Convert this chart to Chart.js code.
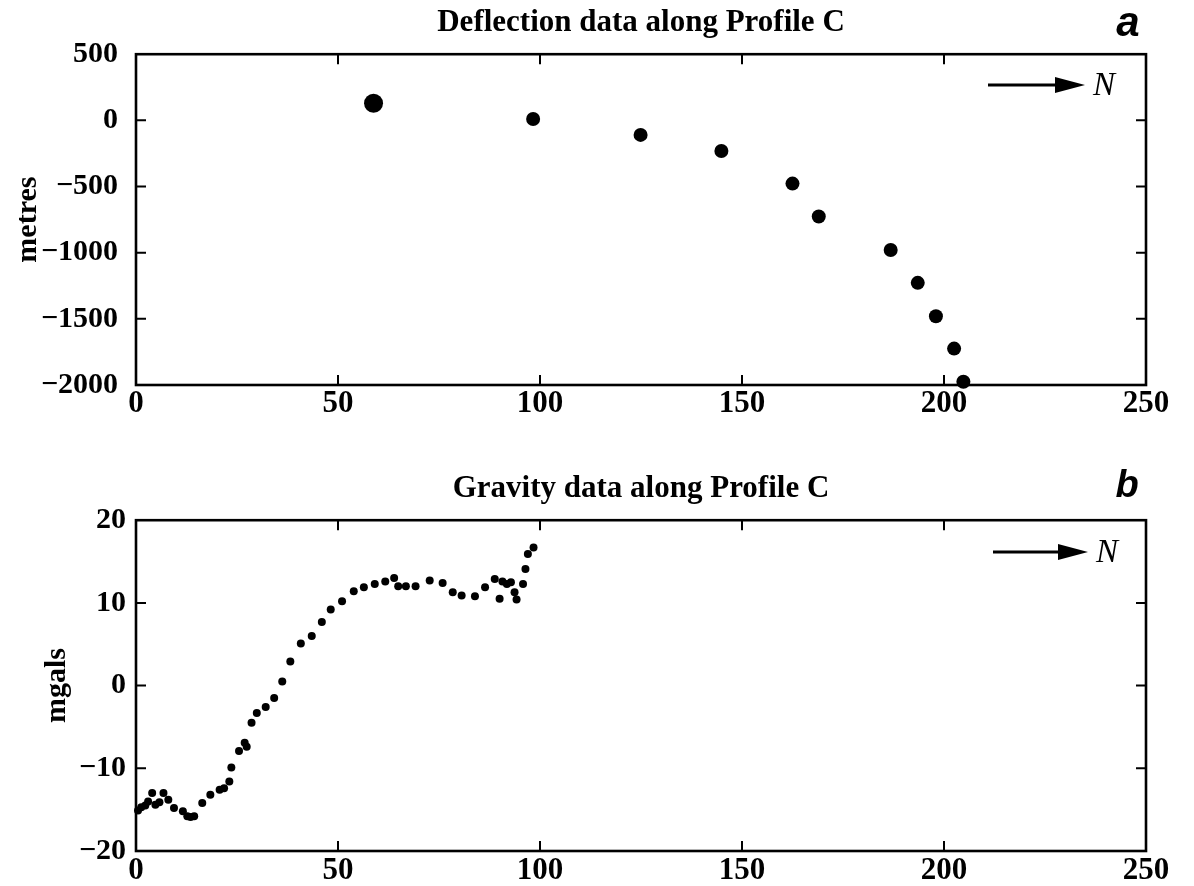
<!DOCTYPE html>
<html><head><meta charset="utf-8">
<script src="https://cdn.jsdelivr.net/npm/chart.js@4.4.0/dist/chart.umd.min.js"></script>
<style>
html,body{margin:0;padding:0;background:#fff;}
#wrap{position:relative;width:1194px;height:886px;overflow:hidden;}
canvas{position:absolute;left:0;}
</style></head><body>
<div id="wrap">
<canvas id="c1" width="1194" height="443" style="top:0"></canvas>
<canvas id="c2" width="1194" height="443" style="top:443px"></canvas>
</div>
<script>
// ---- data ----
const deflectionDistance = [58.8, 98.3, 124.9, 144.9, 162.5, 169.0, 186.8, 193.5, 198.0, 202.5, 204.8];
const deflectionMetres   = [130, 10, -110, -232, -478, -727, -980, -1228, -1480, -1725, -1975];

const gravityDistance = [0.5, 1.3, 2.3, 3.0, 4.0, 4.8, 5.8, 6.8, 8.0, 9.4, 11.6, 12.7, 13.5, 14.4, 16.4, 18.4,
  20.7, 21.8, 23.1, 23.6, 25.5, 26.9, 27.4, 28.6, 29.9, 32.1, 34.2, 36.2, 38.2, 40.8, 43.5, 46.0, 48.2,
  51.0, 53.9, 56.4, 59.1, 61.7, 63.9, 64.9, 66.8, 69.2, 72.7, 75.9, 78.4, 80.6, 83.9, 86.4, 88.8, 90.0,
  90.7, 91.8, 92.8, 93.7, 94.2, 95.8, 96.4, 97.0, 98.4];
const gravityMgals = [-15.1, -14.7, -14.5, -14.0, -13.0, -14.4, -14.1, -13.0, -13.8, -14.8, -15.2, -15.8, -15.9, -15.8, -14.2, -13.2,
  -12.6, -12.4, -11.6, -9.9, -7.9, -6.9, -7.4, -4.5, -3.3, -2.6, -1.5, 0.5, 2.9, 5.1, 6.0, 7.7, 9.2,
  10.2, 11.4, 11.9, 12.3, 12.6, 13.0, 12.0, 12.0, 12.0, 12.7, 12.4, 11.3, 10.9, 10.8, 11.9, 12.9, 10.5,
  12.6, 12.3, 12.5, 11.3, 10.4, 12.3, 14.1, 15.9, 16.7];

const distanceTicks   = [0, 50, 100, 150, 200, 250];
const deflectionTicks = [-2000, -1500, -1000, -500, 0, 500];
const gravityTicks    = [-20, -10, 0, 10, 20];

const titleA = 'Deflection data along Profile C';
const titleB = 'Gravity data along Profile C';
const yTitleA = 'metres';
const yTitleB = 'mgals';

// ---- drawing ----
const SERIF = '"Liberation Serif", "Times New Roman", serif';
const fmt = v => (v < 0 ? '\u2212' + Math.abs(v) : String(v));

const framePlugin = {
  id: 'frame',
  beforeDatasetsDraw(chart) {
    const {ctx, chartArea: a, scales} = chart;
    ctx.save();
    ctx.strokeStyle = '#000';
    ctx.lineWidth = 2.6;
    ctx.strokeRect(a.left, a.top, a.right - a.left, a.bottom - a.top);
    ctx.lineWidth = 2;
    const L = 10;
    const xs = scales.x, ys = scales.y;
    ctx.beginPath();
    xs.ticks.forEach(t => {
      if (t.value === xs.min || t.value === xs.max) return;
      const px = xs.getPixelForValue(t.value);
      ctx.moveTo(px, a.bottom); ctx.lineTo(px, a.bottom - L);
      ctx.moveTo(px, a.top); ctx.lineTo(px, a.top + L);
    });
    ys.ticks.forEach(t => {
      if (t.value === ys.min || t.value === ys.max) return;
      const py = ys.getPixelForValue(t.value);
      ctx.moveTo(a.left, py); ctx.lineTo(a.left + L, py);
      ctx.moveTo(a.right, py); ctx.lineTo(a.right - L, py);
    });
    ctx.stroke();
    ctx.restore();
  },
  afterDraw(chart, args, o) {
    const {ctx} = chart;
    ctx.save();
    // north arrow
    ctx.strokeStyle = '#000'; ctx.fillStyle = '#000';
    ctx.lineWidth = 3.2;
    ctx.beginPath();
    ctx.moveTo(o.ax0, o.ay); ctx.lineTo(o.ax1 - 24, o.ay);
    ctx.stroke();
    ctx.beginPath();
    ctx.moveTo(o.ax1, o.ay);
    ctx.lineTo(o.ax1 - 30, o.ay - 8);
    ctx.lineTo(o.ax1 - 30, o.ay + 8);
    ctx.closePath(); ctx.fill();
    ctx.font = 'italic 33px ' + SERIF;
    ctx.textAlign = 'left'; ctx.textBaseline = 'middle';
    ctx.fillText('N', o.ax1 + 8, o.ay + 1);
    // panel letter
    ctx.font = 'bold italic ' + o.letterSize + 'px "Liberation Sans", Arial, sans-serif';
    ctx.textAlign = 'center'; ctx.textBaseline = 'alphabetic';
    ctx.fillText(o.letter, o.lx, o.ly);
    ctx.restore();
  }
};

function makePanel(id, xs, ys, yTicks, title, yTitle, cfg) {
  const pts = xs.map((x, i) => ({x: x, y: ys[i]}));
  return new Chart(document.getElementById(id), {
    type: 'scatter',
    data: {datasets: [{
      data: pts,
      backgroundColor: '#000',
      borderColor: '#000',
      borderWidth: 0,
      pointRadius: cfg.radius,
      pointHoverRadius: cfg.radius,
      clip: false
    }]},
    options: {
      responsive: false,
      animation: false,
      devicePixelRatio: 1,
      events: [],
      layout: {padding: {left: 0, right: 48, top: 0, bottom: 0}},
      plugins: {
        legend: {display: false},
        tooltip: {enabled: false},
        title: {
          display: true, text: title, color: '#000', fullSize: false,
          font: {family: SERIF, weight: 'bold', size: 31, lineHeight: 1.2},
          padding: cfg.titlePad
        },
        frame: cfg.frame
      },
      scales: {
        x: {
          type: 'linear', min: 0, max: 250,
          afterBuildTicks: s => { s.ticks = distanceTicks.map(v => ({value: v})); },
          afterFit: s => { s.height = cfg.xHeight; },
          grid: {display: false, drawTicks: false},
          border: {display: false},
          ticks: {color: '#000', padding: cfg.xPad, maxRotation: 0, autoSkip: false,
            font: {family: SERIF, weight: 'bold', size: 31, lineHeight: 1},
            callback: v => fmt(v)}
        },
        y: {
          type: 'linear', min: yTicks[0], max: yTicks[yTicks.length - 1],
          afterBuildTicks: s => { s.ticks = yTicks.map(v => ({value: v})); },
          afterFit: s => { s.width = 136; },
          grid: {display: false, drawTicks: false},
          border: {display: false},
          title: {display: true, text: yTitle, color: '#000',
            font: {family: SERIF, weight: 'bold', size: 30, lineHeight: 1.2},
            padding: {top: cfg.yTitlePad, bottom: 0}},
          ticks: {color: '#000', padding: cfg.yPad, autoSkip: false,
            font: {family: SERIF, weight: 'bold', size: 30, lineHeight: 1},
            callback: v => fmt(v)}
        }
      }
    },
    plugins: [framePlugin]
  });
}

makePanel('c1', deflectionDistance, deflectionMetres, deflectionTicks, titleA, yTitleA, {
  radius: c => (c.dataIndex === 0 ? 9.5 : 7),
  titlePad: {top: 4, bottom: 13},
  xHeight: 58, xPad: 3, yPad: 18, yTitlePad: 10,
  frame: {ax0: 988, ax1: 1085, ay: 85, letter: 'a', letterSize: 42, lx: 1128, ly: 36}
});
makePanel('c2', gravityDistance, gravityMgals, gravityTicks, titleB, yTitleB, {
  radius: 4,
  titlePad: {top: 27, bottom: 13},
  xHeight: 35, xPad: 4, yPad: 10, yTitlePad: 39,
  frame: {ax0: 993, ax1: 1088, ay: 109, letter: 'b', letterSize: 38, lx: 1127, ly: 54}
});
</script>
</body></html>
